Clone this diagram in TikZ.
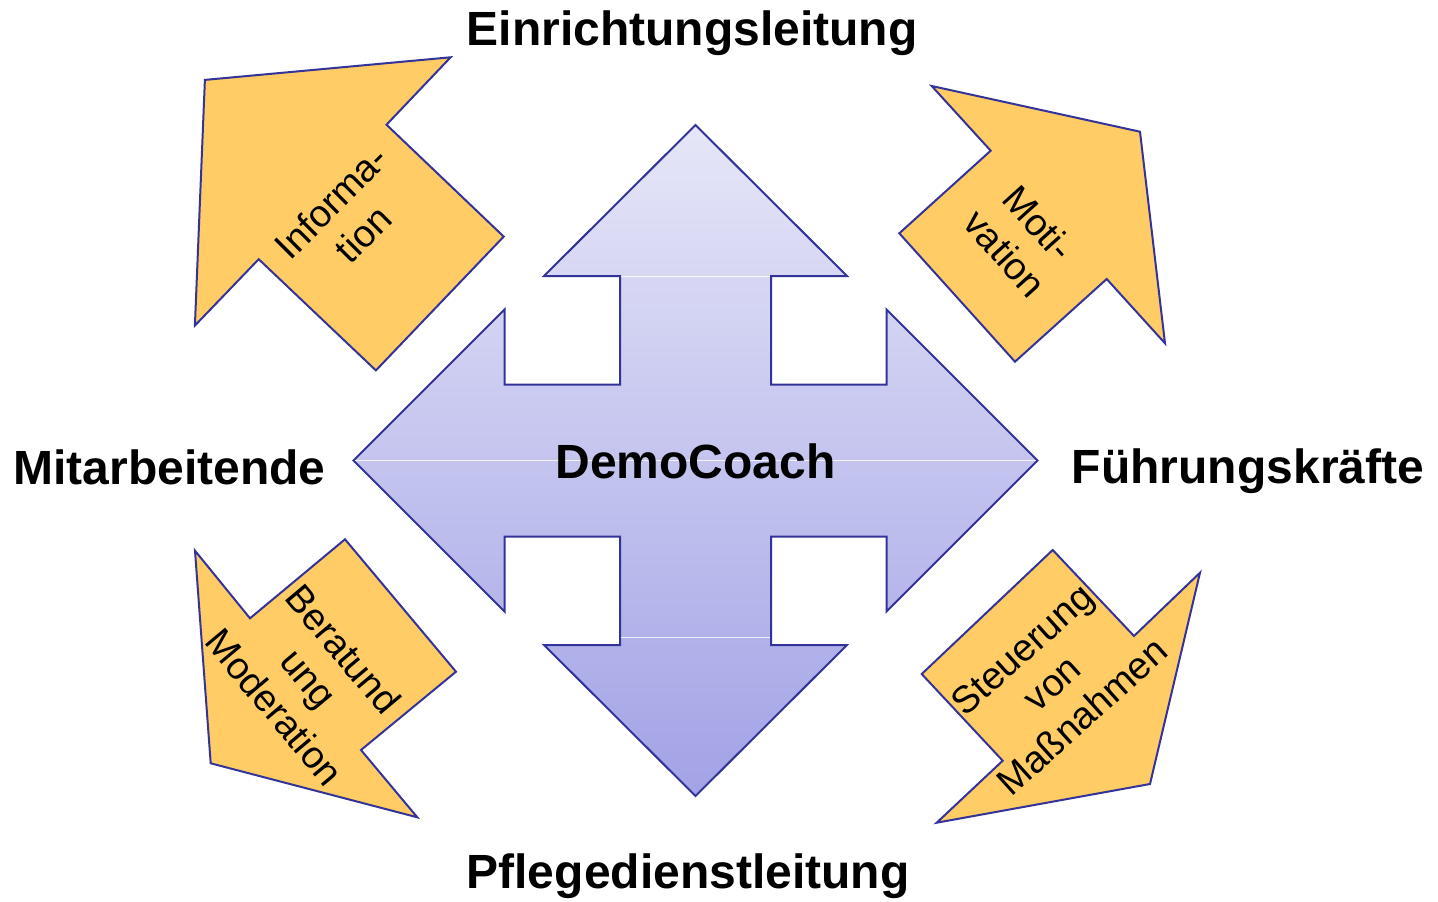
\documentclass[tikz,border=0pt]{standalone}
\usepackage{fontspec}
\setmainfont{Liberation Sans}
\definecolor{outlineblue}{RGB}{51,51,153}
\definecolor{arroworange}{RGB}{255,204,102}
\definecolor{crosstop}{RGB}{230,230,248}
\definecolor{crossbot}{RGB}{162,162,230}
\tikzset{
  outl/.style={draw=outlineblue, line width=2pt, line join=miter},
  orangearrow/.style={outl, fill=arroworange},
  bigl/.style={font=\fontsize{48}{52}\selectfont\bfseries, anchor=base, inner sep=0pt},
  smalll/.style={font=\fontsize{38}{45}\selectfont, align=center, inner sep=0pt},
  seam/.style={draw=white, line width=0.8pt, opacity=0.8},
}
\begin{document}
\begin{tikzpicture}[x=1pt,y=-1pt]
\useasboundingbox (0,0) rectangle (1438,902);

% central cross
\path[outl, top color=crosstop, bottom color=crossbot]
  (695.5,125) -- (847,276) -- (771,276) -- (771,384.5) -- (886.5,384.5) -- (886.5,309.5)
  -- (1037.5,460.5) -- (886.5,611.5) -- (886.5,536.5) -- (771,536.5) -- (771,645) -- (847,645)
  -- (695.5,796) -- (544,645) -- (620,645) -- (620,536.5) -- (504.5,536.5) -- (504.5,611.5)
  -- (353.5,460.5) -- (504.5,309.5) -- (504.5,384.5) -- (620,384.5) -- (620,276) -- (544,276) -- cycle;
\coordinate (s1a) at (621,276); \coordinate (s1b) at (770,276);
\coordinate (s2a) at (355,460.5); \coordinate (s2b) at (1036,460.5);
\coordinate (s3a) at (621,637); \coordinate (s3b) at (770,637);
\draw[seam] (s1a) -- (s1b);
\draw[seam] (s2a) -- (s2b);
\draw[seam] (s3a) -- (s3b);

% orange arrows
\path[orangearrow] (450.6,57.3) -- (204.9,79.9) -- (194.9,325.6) -- (258.7,259.2)
  -- (375.9,370.4) -- (503.7,236.6) -- (386.5,124.7) -- cycle;
\path[orangearrow] (931.7,86) -- (1140,131.7) -- (1165,343.3) -- (1106.7,279)
  -- (1015,361.7) -- (899.3,233.3) -- (990.7,150.7) -- cycle;
\path[orangearrow] (195,550.7) -- (250,618.3) -- (345,539.3) -- (456,671.7)
  -- (361,750) -- (417.3,817.3) -- (210.7,763.3) -- cycle;
\path[orangearrow] (1052.7,550) -- (1134,636) -- (1200,572.7) -- (1150,784)
  -- (936.7,822.7) -- (1002.7,760.7) -- (921.7,674) -- cycle;

% labels
\node[bigl] (einr) at (692,45) {Einrichtungsleitung};
\node[bigl] (mitar) at (169.5,484) {Mitarbeitende};
\node[bigl] (fuehr) at (1248,483) {Führungskräfte};
\node[bigl] (pfleg) at (688,888) {Pflegedienstleitung};
\node[bigl] (demo) at (695.5,478) {DemoCoach};

\node[smalll, rotate=45] (info) at (347,218) {Informa-\\tion};
\node[smalll, rotate=-48] (moti) at (1022,238) {Moti-\\vation};
\node[smalll, rotate=-50] (bera) at (309,678) {Beratund\\ung\\Moderation};
\node[smalll, rotate=42] (steu) at (1052,683) {Steuerung\\von\\Maßnahmen};
\end{tikzpicture}
\end{document}
